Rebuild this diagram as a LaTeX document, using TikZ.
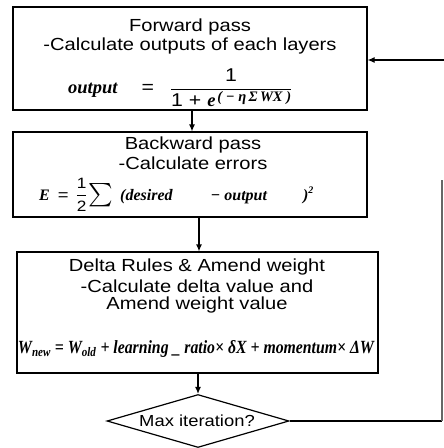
\documentclass[tikz,border=0pt]{standalone}
\usepackage{fontspec}
\usepackage{amsmath}
\usepackage{graphicx}
\usetikzlibrary{arrows.meta,shapes.geometric}
\setmainfont[FakeStretch=1.15]{Liberation Sans}
\newfontfamily\serbi[BoldItalicFont={Liberation Serif Bold Italic}]{Liberation Serif}
\newcommand\bi[1]{{\serbi\bfseries\itshape #1}}
\tikzset{
  box/.style={draw, line width=1.2pt, minimum width=#1, inner sep=0pt},
  lbl/.style={inner sep=0pt, font=\fontsize{17.5}{19}\selectfont},
  frm/.style={inner sep=0pt, font=\fontsize{16}{18}\selectfont},
  arr/.style={line width=1.2pt, -{Latex[length=7pt,width=6pt]}},
  ln/.style={line width=1.2pt}
}
\begin{document}
\begin{tikzpicture}
\useasboundingbox[fill=white] (0,0) rectangle (444pt,-448pt);
% boxes
\node[box=354pt, minimum height=103pt] (b1) at (190pt,-58.5pt) {};
\node[box=354pt, minimum height=85pt] (b2) at (190pt,-174.5pt) {};
\node[box=361pt, minimum height=121pt] (b3) at (197.5pt,-312.5pt) {};
\node[draw, line width=1.2pt, diamond, aspect=3.4, minimum width=182pt, minimum height=53pt, inner sep=0pt] (d) at (198pt,-421pt) {};
% texts box 1
\node[lbl] (t11) at (190pt,-27pt) {Forward pass};
\node[lbl] (t12) at (190pt,-46pt) {-Calculate outputs of each layers};
\node[frm, anchor=west, font=\fontsize{18.5}{20}\selectfont] (t13) at (68pt,-88pt) {\bi{output}\hspace{24pt}=\hspace{16pt}$\dfrac{\mbox{1}}{\mbox{1 + \bi{e}\hspace{2pt}\raisebox{5pt}{\fontsize{14.5}{15}\selectfont\bi{( − η\,Σ\,WX )}}}}$};
% texts box 2
\node[lbl] (t21) at (193pt,-145pt) {Backward pass};
\node[lbl] (t22) at (193pt,-163pt) {-Calculate errors};
\node[frm, anchor=base west] (t23) at (39pt,-200pt) {\bi{E}\hspace{8pt}=\hspace{7pt}$\dfrac{\mbox{\fontsize{15}{15}\selectfont 1}}{\mbox{\fontsize{15}{15}\selectfont 2}}$\hspace{1pt}\raisebox{-1pt}{\scalebox{1.35}{$\sum$}}\hspace{7pt}\bi{(desired}\hspace{38pt}\bi{− output}\hspace{36pt}\bi{)}\raisebox{7pt}{\fontsize{10}{10}\selectfont\bi{2}}};
% texts box 3
\node[lbl] (t31) at (197pt,-267pt) {Delta Rules \& Amend weight};
\node[lbl] (t32) at (197pt,-286pt) {-Calculate delta value and};
\node[lbl] (t33) at (197pt,-305pt) {Amend weight value};
\node[frm] (t34) at (196pt,-349pt) {\resizebox{356pt}{13pt}{\fontsize{14}{16}\selectfont\bi{W\textsubscript{new} = W\textsubscript{old} + learning \_ ratio× δX + momentum× ΔW}}};
% diamond text
\node[lbl, font=\fontsize{16}{18}\selectfont] (td) at (197pt,-421pt) {Max iteration?};
% connectors
\coordinate (c1) at (444pt,-60pt);
\coordinate (c2) at (442pt,-421pt);
\coordinate (c3) at (442pt,-180pt);
\draw[arr] (b1.south -| 192pt,0) -- (b2.north -| 192pt,0);
\draw[arr] (b2.south -| 199pt,0) -- (b3.north -| 199pt,0);
\draw[arr] (b3.south -| 198pt,0) -- (d.north);
\draw[ln] (d.east) -- (c2);
\draw[ln, black!60] (c2) -- (c3);
\draw[arr] (c1) -- (b1.east |- c1);
\end{tikzpicture}
\end{document}
